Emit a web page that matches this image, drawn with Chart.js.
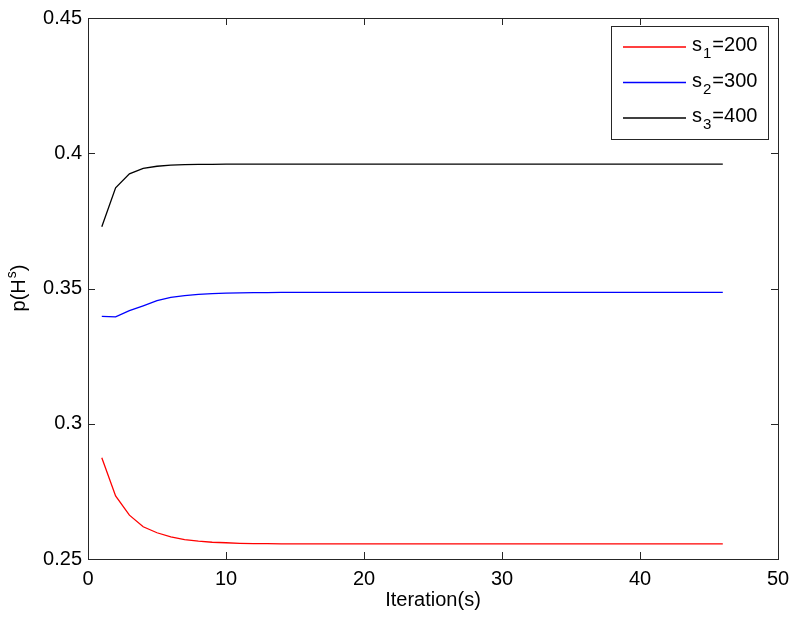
<!DOCTYPE html>
<html>
<head>
<meta charset="utf-8">
<script src="https://cdn.jsdelivr.net/npm/chart.js@4.4.1/dist/chart.umd.min.js"></script>
<style>
  html, body { margin: 0; padding: 0; background: #ffffff; }
  #wrap { width: 800px; height: 623px; }
</style>
</head>
<body>
<div id="wrap"><canvas id="c" width="800" height="623"></canvas></div>
<script>
// ---- data ----
const iterations = [1,2,3,4,5,6,7,8,9,10,11,12,13,14,15,16,17,18,19,20,21,22,23,24,25,26,27,28,29,30,31,32,33,34,35,36,37,38,39,40,41,42,43,44,45,46];
const s1Values = [0.2874,0.2733,0.2662,0.2619,0.2597,0.2582,0.2572,0.2566,0.2562,0.2560,0.2558,0.2557,0.2557,0.2556,0.2556,0.2556,0.2556,0.2556,0.2556,0.2556,0.2556,0.2556,0.2556,0.2556,0.2556,0.2556,0.2556,0.2556,0.2556,0.2556,0.2556,0.2556,0.2556,0.2556,0.2556,0.2556,0.2556,0.2556,0.2556,0.2556,0.2556,0.2556,0.2556,0.2556,0.2556,0.2556];
const s2Values = [0.3397,0.3395,0.3418,0.3436,0.3455,0.3467,0.3474,0.3478,0.3481,0.3483,0.3484,0.3485,0.3485,0.3486,0.3486,0.3486,0.3486,0.3486,0.3486,0.3486,0.3486,0.3486,0.3486,0.3486,0.3486,0.3486,0.3486,0.3486,0.3486,0.3486,0.3486,0.3486,0.3486,0.3486,0.3486,0.3486,0.3486,0.3486,0.3486,0.3486,0.3486,0.3486,0.3486,0.3486,0.3486,0.3486];
const s3Values = [0.3728,0.3872,0.3924,0.3944,0.3952,0.3956,0.3958,0.3959,0.3959,0.3960,0.3960,0.3960,0.3960,0.3960,0.3960,0.3960,0.3960,0.3960,0.3960,0.3960,0.3960,0.3960,0.3960,0.3960,0.3960,0.3960,0.3960,0.3960,0.3960,0.3960,0.3960,0.3960,0.3960,0.3960,0.3960,0.3960,0.3960,0.3960,0.3960,0.3960,0.3960,0.3960,0.3960,0.3960,0.3960,0.3960];
const seriesNames = [["s","1","=200"],["s","2","=300"],["s","3","=400"]];
const xTicks = [0,10,20,30,40,50];
const yTicks = [0.25,0.3,0.35,0.4,0.45];
const xTitle = "Iteration(s)";
const yTitleParts = ["p(H","s",")"];

const FONT = "'Liberation Sans', Arial, sans-serif";
const colors = ["#ff0000","#0000ff","#000000"];

function pts(vals) { return iterations.map((x, i) => ({x: x, y: vals[i]})); }

// Box + inward ticks + y title + legend
const matlabPlugin = {
  id: 'matlab',
  afterDraw(chart) {
    const ctx = chart.ctx;
    const a = chart.chartArea;
    const xs = chart.scales.x, ys = chart.scales.y;
    ctx.save();
    ctx.strokeStyle = '#262626';
    ctx.lineWidth = 1;
    // box
    ctx.strokeRect(Math.round(a.left) + 0.5, Math.round(a.top) + 0.5, Math.round(a.right - a.left), Math.round(a.bottom - a.top));
    const L = 7;
    ctx.beginPath();
    xTicks.forEach(v => {
      const px = Math.round(xs.getPixelForValue(v)) + 0.5;
      ctx.moveTo(px, a.bottom); ctx.lineTo(px, a.bottom - L);
      ctx.moveTo(px, a.top); ctx.lineTo(px, a.top + L);
    });
    yTicks.forEach(v => {
      const py = Math.round(ys.getPixelForValue(v)) + 0.5;
      ctx.moveTo(a.left, py); ctx.lineTo(a.left + L, py);
      ctx.moveTo(a.right, py); ctx.lineTo(a.right - L, py);
    });
    ctx.stroke();

    // y title with superscript
    ctx.fillStyle = '#000';
    ctx.textBaseline = 'alphabetic';
    ctx.textAlign = 'left';
    ctx.translate(25, (a.top + a.bottom) / 2);
    ctx.rotate(-Math.PI / 2);
    ctx.font = '20px ' + FONT;
    const w0 = ctx.measureText(yTitleParts[0]).width;
    ctx.font = '14px ' + FONT;
    const w1 = ctx.measureText(yTitleParts[1]).width;
    ctx.font = '20px ' + FONT;
    const w2 = ctx.measureText(yTitleParts[2]).width;
    let sx = -(w0 + w1 + w2) / 2;
    ctx.fillText(yTitleParts[0], sx, 0);
    ctx.font = '14px ' + FONT;
    ctx.fillText(yTitleParts[1], sx + w0 + 1, -9);
    ctx.font = '20px ' + FONT;
    ctx.fillText(yTitleParts[2], sx + w0 + w1 + 1, 0);
    ctx.setTransform(1, 0, 0, 1, 0, 0);

    // legend
    const bx = 611.5, by = 26.5, bw = 157, bh = 113;
    ctx.fillStyle = '#fff';
    ctx.fillRect(bx, by, bw, bh);
    ctx.strokeStyle = '#262626';
    ctx.strokeRect(bx, by, bw, bh);
    chart.data.datasets.forEach((ds, i) => {
      const ly = 47 + i * 35.5;
      ctx.strokeStyle = ds.borderColor;
      ctx.lineWidth = 1.3;
      ctx.beginPath();
      ctx.moveTo(623, ly); ctx.lineTo(686, ly);
      ctx.stroke();
      const parts = seriesNames[i];
      ctx.fillStyle = '#000';
      ctx.textBaseline = 'alphabetic';
      let tx = 692;
      const base = ly + 4;
      ctx.font = '20px ' + FONT;
      ctx.fillText(parts[0], tx, base);
      tx += ctx.measureText(parts[0]).width + 1;
      ctx.font = '15px ' + FONT;
      ctx.fillText(parts[1], tx, base + 7);
      tx += ctx.measureText(parts[1]).width + 1;
      ctx.font = '20px ' + FONT;
      ctx.fillText(parts[2], tx, base);
    });
    ctx.restore();
  }
};

new Chart(document.getElementById('c'), {
  type: 'line',
  data: {
    datasets: [
      { label: 's1=200', data: pts(s1Values), borderColor: colors[0], borderWidth: 1.3, pointRadius: 0, tension: 0, fill: false },
      { label: 's2=300', data: pts(s2Values), borderColor: colors[1], borderWidth: 1.3, pointRadius: 0, tension: 0, fill: false },
      { label: 's3=400', data: pts(s3Values), borderColor: colors[2], borderWidth: 1.3, pointRadius: 0, tension: 0, fill: false }
    ]
  },
  options: {
    responsive: false,
    animation: false,
    layout: { padding: { top: 15, right: 22, left: 0, bottom: 0 } },
    plugins: { legend: { display: false }, tooltip: { enabled: false } },
    scales: {
      x: {
        type: 'linear', min: 0, max: 50,
        afterBuildTicks(s) { s.ticks = xTicks.map(v => ({ value: v })); },
        afterFit(s) { s.height = 64; },
        grid: { display: false, drawTicks: false },
        border: { display: false },
        ticks: { color: '#000', font: { family: FONT, size: 20 }, padding: 8, maxRotation: 0, autoSkip: false,
                 callback: v => String(v) },
        title: { display: true, text: xTitle, color: '#000', font: { family: FONT, size: 20 }, padding: { top: 0, bottom: 11 } }
      },
      y: {
        type: 'linear', min: 0.25, max: 0.45,
        afterBuildTicks(s) { s.ticks = yTicks.map(v => ({ value: v })); },
        afterFit(s) { s.width = 88; },
        grid: { display: false, drawTicks: false },
        border: { display: false },
        ticks: { color: '#000', font: { family: FONT, size: 20 }, padding: 6, autoSkip: false,
                 callback: v => String(Math.round(v * 100) / 100) }
      }
    }
  },
  plugins: [matlabPlugin]
});
</script>
</body>
</html>
